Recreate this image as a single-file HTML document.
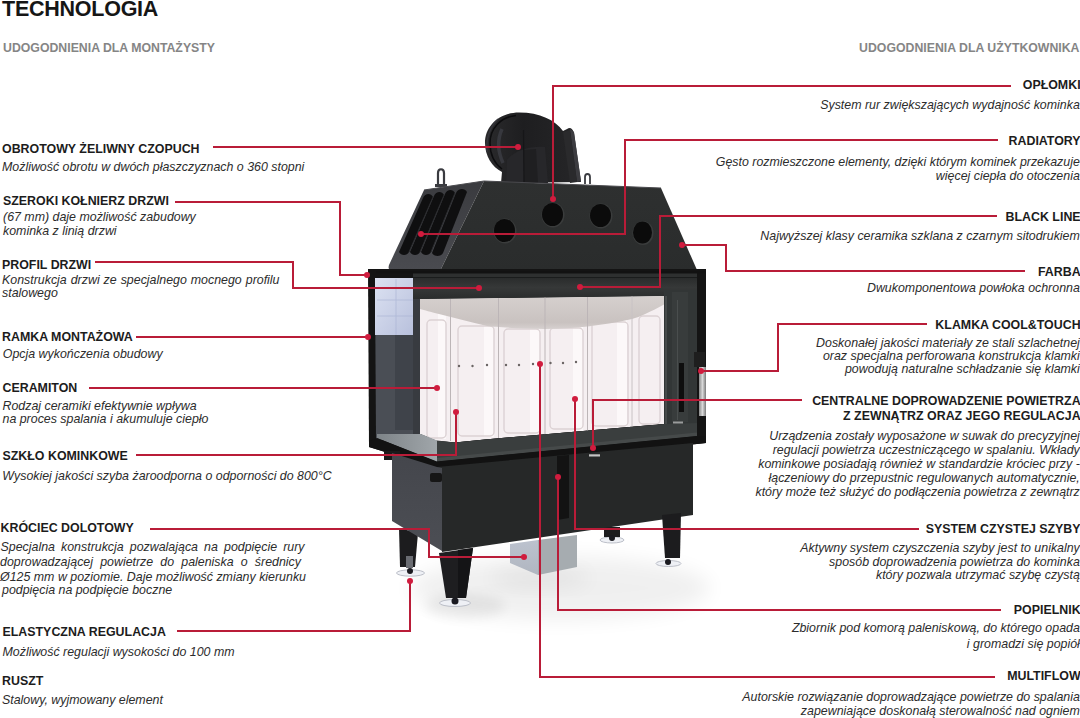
<!DOCTYPE html>
<html><head><meta charset="utf-8"><style>
html,body{margin:0;padding:0;background:#fff;overflow:hidden;}
body{width:1080px;height:718px;position:relative;overflow:hidden;font-family:"Liberation Sans",sans-serif;}
.t{position:absolute;white-space:nowrap;}
svg{position:absolute;left:0;top:0;}
</style></head><body>
<svg width="1080" height="718" viewBox="0 0 1080 718">
<defs>
  <radialGradient id="shadow" cx="0.5" cy="0.5" r="0.5">
    <stop offset="0" stop-color="#000" stop-opacity="0.10"/>
    <stop offset="1" stop-color="#000" stop-opacity="0"/>
  </radialGradient>
  <linearGradient id="hoodFront" x1="0" y1="0" x2="0" y2="1">
    <stop offset="0" stop-color="#2e3030"/>
    <stop offset="1" stop-color="#2a2c2c"/>
  </linearGradient>
  <linearGradient id="hoodSide" x1="0" y1="0" x2="0" y2="1">
    <stop offset="0" stop-color="#3a3b3f"/>
    <stop offset="1" stop-color="#4a4b50"/>
  </linearGradient>
  <linearGradient id="pipe" x1="0" y1="0" x2="1" y2="0">
    <stop offset="0" stop-color="#2a2a2c"/>
    <stop offset="0.4" stop-color="#1e1e20"/>
    <stop offset="1" stop-color="#262628"/>
  </linearGradient>
  <linearGradient id="sideGlass" x1="0" y1="0" x2="0" y2="1">
    <stop offset="0" stop-color="#44474c"/>
    <stop offset="1" stop-color="#5a5e62"/>
  </linearGradient>
  <linearGradient id="refl" x1="0" y1="0" x2="1" y2="1">
    <stop offset="0" stop-color="#dce2f2"/>
    <stop offset="1" stop-color="#b8c0dc"/>
  </linearGradient>
  <linearGradient id="topProfile" x1="0" y1="0" x2="0" y2="1">
    <stop offset="0" stop-color="#2a2c2c"/>
    <stop offset="0.45" stop-color="#363838"/>
    <stop offset="1" stop-color="#2a2c2c"/>
  </linearGradient>
  <linearGradient id="ceramTop" x1="0" y1="0" x2="0" y2="1">
    <stop offset="0" stop-color="#d6d0ce"/>
    <stop offset="0.8" stop-color="#c9c2c0"/>
    <stop offset="1" stop-color="#d6d0cf"/>
  </linearGradient>
  <linearGradient id="handle" x1="0" y1="0" x2="1" y2="0">
    <stop offset="0" stop-color="#8a8a8a"/>
    <stop offset="0.5" stop-color="#d8d8d8"/>
    <stop offset="1" stop-color="#7a7a7a"/>
  </linearGradient>
  <linearGradient id="boxSide" x1="0" y1="0" x2="0" y2="1">
    <stop offset="0" stop-color="#44464c"/>
    <stop offset="1" stop-color="#4c4e54"/>
  </linearGradient>
  <linearGradient id="blockL" x1="0" y1="0" x2="0" y2="1">
    <stop offset="0" stop-color="#bcc2ce"/>
    <stop offset="1" stop-color="#b0b6c0"/>
  </linearGradient>
  <linearGradient id="floorG" x1="0" y1="0" x2="1" y2="0">
    <stop offset="0" stop-color="#7e8488"/>
    <stop offset="1" stop-color="#a0a6aa"/>
  </linearGradient>
  <filter id="blur4" x="-50%" y="-50%" width="200%" height="200%"><feGaussianBlur stdDeviation="10"/></filter>
  <filter id="blur1" x="-50%" y="-50%" width="200%" height="200%"><feGaussianBlur stdDeviation="6"/></filter>
</defs>

<!-- floor shadow -->
<ellipse cx="560" cy="588" rx="150" ry="32" fill="#000" opacity="0.06" filter="url(#blur4)"/>
<ellipse cx="465" cy="606" rx="40" ry="12" fill="#000" opacity="0.06" filter="url(#blur1)"/>
<ellipse cx="540" cy="578" rx="50" ry="10" fill="#000" opacity="0.05" filter="url(#blur4)"/>

<!-- chimney elbow -->
<path d="M501,183 L502,172 C492,167 485,156 485,143 C485,126 499,112.5 519,112.5 C540,112.5 555,120 563,131 L569,128 C572,128 573,130 574,133 L581,182 Z" fill="url(#pipe)"/>
<path d="M570,129 L574,132 L581,181 L577,182 Z" fill="#3c3c40"/>
<path d="M563,132 L570,130 L577,182 L570,183 Z" fill="#2a2a2c"/>
<path d="M506,183 L507,160 C515,150 530,146 545,147 L548,183 Z" fill="#27272a"/>
<path d="M524,183 L524,150 L536,149 L538,183 Z" fill="#1f1f21"/>
<path d="M502,169 C494,163 490,153 490,143 C490,128 501,117 516,115.5" stroke="#0c0c0e" stroke-width="1.5" fill="none"/>
<path d="M487,152 C486,140 489,128 498,119" stroke="#36363c" stroke-width="1.3" fill="none"/>
<path d="M503,163 C498,152 497,140 502,129" stroke="#4a4c56" stroke-width="3.5" fill="none" opacity="0.5"/>
<path d="M523.5,130 L524,183" stroke="#161618" stroke-width="1.2"/>
<!-- loop handles -->
<path d="M438,185 L438,173 C438,168 444,168 444,173 L444,185" fill="none" stroke="#3a3b40" stroke-width="2.2"/>
<rect x="435" y="184" width="12" height="3" fill="#3a3b40"/>
<path d="M585,184 L585,177 C585,173 590,173 590,177 L590,184" fill="none" stroke="#3a3b40" stroke-width="1.8"/>
<!-- hood side (left) face -->
<path d="M424,190 L484,181 L440,271 L392,271 C389,271 388,268 389,265 Z" fill="url(#hoodSide)"/>
<!-- hood front face -->
<path d="M484,181 L661,188 L697,270 L697,271 L440,271 Z" fill="url(#hoodFront)"/>
<path d="M424,190 L484,181 L661,188" stroke="#4a4a4e" stroke-width="1" fill="none"/>
<!-- vents -->
<g fill="#0f0f10">
  <path d="M423,198 C425,193 431,193 433,197 L409,252 C407,256 401,256 399,252 Z"/>
  <path d="M434,196 C436,191 442,191 444,195 L420,252 C418,256 412,256 410,252 Z"/>
  <path d="M445,194 C447,189 453,189 455,193 L431,252 C429,256 423,256 421,252 Z"/>
  <path d="M456,193 C458,188 465,188 467,192 L443,253 C441,257 434,257 432,253 Z"/>
</g>
<g stroke="#2a2b2e" stroke-width="1">
  <path d="M433,197 L409,252"/><path d="M444,195 L420,252"/><path d="M455,193 L431,252"/>
</g>
<!-- holes -->
<g>
  <ellipse cx="505" cy="231" rx="11.5" ry="12.5" fill="#3a3c3c"/>
  <ellipse cx="553" cy="215" rx="11.5" ry="12.5" fill="#3a3c3c"/>
  <ellipse cx="601" cy="216" rx="11.5" ry="12.5" fill="#3a3c3c"/>
  <ellipse cx="643" cy="233" rx="10.5" ry="12" fill="#3a3c3c"/>
</g>
<g fill="#0b0b0b">
  <ellipse cx="504.5" cy="230.5" rx="10.5" ry="11.5"/>
  <ellipse cx="552.5" cy="214.5" rx="10.5" ry="11.5"/>
  <ellipse cx="600.5" cy="215.5" rx="10.5" ry="11.5"/>
  <ellipse cx="642.5" cy="232.5" rx="9.5" ry="11"/>
</g>
<!-- door outer frame silhouette -->
<path d="M368,269 L706,269 L706,443 L697,444 L437,468 L369,447 Z" fill="#141414"/>
<!-- side glass -->
<path d="M375,278 L420,278 L420,440 L376,440 Z" fill="#4a4e55"/>
<rect x="395" y="335" width="18" height="95" fill="#3f434a"/>
<rect x="375" y="278" width="39" height="57" fill="url(#refl)"/>
<g stroke="#a4aed0" stroke-width="0.8" opacity="0.7">
  <path d="M377,300 L413,300"/><path d="M377,316 L413,316"/><path d="M396,279 L396,335"/>
</g>
<rect x="413" y="278" width="7" height="160" fill="#383b40"/>
<!-- top profile -->
<rect x="376" y="271" width="330" height="2.5" fill="#121212"/>
<rect x="413" y="273.5" width="284" height="3.5" fill="#2e3030"/>
<rect x="413" y="277" width="284" height="1.2" fill="#1a1c1c"/>
<rect x="413" y="278" width="284" height="21" fill="url(#topProfile)"/>
<clipPath id="ceramClip"><path d="M420,299 L664,296 L664,424 L485,439.5 L455,442.5 L437,441 L420,434 Z"/></clipPath>
<!-- interior ceramic -->
<g clip-path="url(#ceramClip)">
<path d="M420,299 L664,296 L664,424 L485,439.5 L455,442.5 L437,441 L420,434 Z" fill="#f5eff1"/>
<g fill="#fcf8f9">
  <rect x="438" y="305" width="8" height="134"/>
  <rect x="484" y="305" width="10" height="132"/>
  <rect x="530" y="305" width="10" height="128"/>
  <rect x="573" y="305" width="10" height="126"/>
  <rect x="617" y="305" width="10" height="122"/>
</g>
<g fill="none" stroke="#dcd2d4" stroke-width="1.4">
  <rect x="427" y="320" width="19" height="118" rx="4"/>
  <rect x="458" y="326" width="36" height="110" rx="4"/>
  <rect x="504" y="329" width="36" height="104" rx="4"/>
  <rect x="550" y="328" width="33" height="101" rx="4"/>
  <rect x="592" y="322" width="36" height="104" rx="4"/>
  <rect x="639" y="316" width="21" height="108" rx="4"/>
</g>

<!-- top shadow arc -->
<path d="M420,299 L664,296 L664,304.5 C650,312 640,317 632,319 C600,326 575,328.5 545,329 C515,328.5 495,327 487,326 C470,322 455,318 439,314 C430,312 425,310 420,309 Z" fill="url(#ceramTop)"/>
<!-- panel dividers -->
<g stroke="#bcb5b7" stroke-width="1">
  <path d="M450.5,299 L450.5,441"/>
  <path d="M498.5,298 L498.5,438"/>
  <path d="M545,297 L545,435"/>
  <path d="M587.5,297 L587.5,432"/>
  <path d="M632,296 L632,429" stroke="#c8c2c4"/>
</g>
<g fill="#6a6464">
  <circle cx="459" cy="366" r="1.2"/><circle cx="472.5" cy="366" r="1.2"/><circle cx="487" cy="365" r="1.2"/>
  <circle cx="506" cy="365" r="1.2"/><circle cx="519" cy="365" r="1.2"/><circle cx="533" cy="364" r="1.2"/>
  <circle cx="550.5" cy="363" r="1.2"/><circle cx="563" cy="363" r="1.2"/><circle cx="576" cy="362" r="1.2"/>
</g>
</g>
<!-- right inner frame -->
<path d="M664,290 L697,290 L697,424 L664,424 Z" fill="#323636"/>
<rect x="665" y="296" width="2" height="128" fill="#464a4a"/>
<rect x="672" y="292" width="16" height="130" fill="#383c3c"/>
<rect x="677" y="300" width="1" height="120" fill="#4a4e4e"/>
<rect x="679" y="363" width="5" height="49" fill="#0e0e0e"/>
<!-- handle -->
<rect x="694" y="352" width="11" height="15" fill="#1e1e1e"/>
<rect x="699" y="367" width="7" height="49" fill="url(#handle)"/>
<!-- side floor -->
<path d="M377,434 L421,434 L437,440.5 L437,462 L377,438 Z" fill="url(#floorG)"/>
<!-- door bottom frame -->
<path d="M437,440.5 L455,442.5 L485,439.5 L664,424 L697,423 L697,436 L437,461.5 Z" fill="#3a3e3e"/>
<path d="M437,458 L697,432.5 L697,436 L437,461.5 Z" fill="#464a4a"/>

<!-- black bottom band -->
<path d="M369,441 L377,438 L437,461.5 L697,436 L706,436 L706,443 L697,444 L437,468 L369,447 Z" fill="#121212"/>
<!-- little tab -->
<rect x="384" y="451" width="16" height="9" fill="#1a1a1a"/>
<!-- light bar under CENTRALNE dot -->


<!-- legs (back) -->
<path d="M399,528 L418,533 L415,567 L400,567 Z" fill="#1c1c1e"/>
<ellipse cx="410.5" cy="573" rx="14" ry="3.2" fill="#eef0f5" stroke="#b4b8c2" stroke-width="0.9"/>
<rect x="406" y="556" width="7" height="12" fill="#6a6c72"/>
<circle cx="410" cy="571" r="3" fill="#1a1a20"/>
<ellipse cx="612" cy="540" rx="12" ry="3" fill="#eef0f5" stroke="#b4b8c2" stroke-width="0.9"/>
<rect x="604" y="527" width="16" height="10" fill="#1c1c1e"/>
<circle cx="612" cy="538" r="3" fill="#1a1a20"/>

<!-- lower box -->
<path d="M392,453 L437,467 L442,467 L442,551 L392,521 Z" fill="url(#boxSide)"/>
<path d="M437,467 L693,443 L693,515 L442,552 L442,468 Z" fill="#262828"/>
<path d="M557,456 L569,455 L569,518 L557,520 Z" fill="#131313"/>
<rect x="430" y="473" width="12" height="9" rx="2" fill="#161616"/>

<!-- grey block -->
<path d="M510,544 L538,540 L538,575 L510,563 Z" fill="url(#blockL)"/>
<path d="M538,540 L577,535 L577,567 L538,575 Z" fill="#a6acb0"/>

<!-- front legs -->
<path d="M439,553 L473,548 L466,598 L446,598 Z" fill="#1e1e20"/>
<path d="M458,550 L473,548 L466,598 L458,598 Z" fill="#141416"/>
<ellipse cx="455" cy="603" rx="15.5" ry="3.5" fill="#eef0f5" stroke="#b4b8c2" stroke-width="0.9"/>
<circle cx="455" cy="601" r="3.5" fill="#1a1a20"/>
<path d="M662,515 L681,513 L680,558 L665,558 Z" fill="#1c1c1e"/>
<ellipse cx="668.5" cy="563.5" rx="12.5" ry="3" fill="#eef0f5" stroke="#b4b8c2" stroke-width="0.9"/>
<circle cx="668" cy="562" r="3" fill="#1a1a20"/>
<rect x="589" y="454.3" width="11" height="2.2" fill="#c4c4c4"/>
<rect x="673" y="421.5" width="10" height="2" fill="#9a9c9c"/>

<polyline points="213,147 518,147" fill="none" stroke="#b91c38" stroke-width="2" stroke-linejoin="miter"/>
<circle cx="518" cy="147" r="3" fill="#d01c3e"/>
<polyline points="175,202 340,202 340,275 367,275" fill="none" stroke="#b91c38" stroke-width="2" stroke-linejoin="miter"/>
<circle cx="367" cy="275" r="3" fill="#d01c3e"/>
<polyline points="95,262 293,262 293,288 479,288" fill="none" stroke="#b91c38" stroke-width="2" stroke-linejoin="miter"/>
<circle cx="479" cy="288" r="3" fill="#d01c3e"/>
<polyline points="136,337 368,337" fill="none" stroke="#b91c38" stroke-width="2" stroke-linejoin="miter"/>
<circle cx="368" cy="337" r="3" fill="#d01c3e"/>
<polyline points="89,388 437,388" fill="none" stroke="#b91c38" stroke-width="2" stroke-linejoin="miter"/>
<circle cx="437" cy="388" r="3" fill="#d01c3e"/>
<polyline points="136,455 456,455 456,412" fill="none" stroke="#b91c38" stroke-width="2" stroke-linejoin="miter"/>
<circle cx="456" cy="412" r="3" fill="#d01c3e"/>
<polyline points="150,529 429,529 429,557 524,557" fill="none" stroke="#b91c38" stroke-width="2" stroke-linejoin="miter"/>
<circle cx="524" cy="557" r="3" fill="#d01c3e"/>
<polyline points="177,631 410,631 410,581" fill="none" stroke="#b91c38" stroke-width="2" stroke-linejoin="miter"/>
<circle cx="410" cy="581" r="3" fill="#d01c3e"/>
<polyline points="995,677 540,677 540,364" fill="none" stroke="#b91c38" stroke-width="2" stroke-linejoin="miter"/>
<circle cx="540" cy="364" r="3" fill="#d01c3e"/>
<polyline points="1001,610 558,610 558,477" fill="none" stroke="#b91c38" stroke-width="2" stroke-linejoin="miter"/>
<circle cx="558" cy="477" r="3" fill="#d01c3e"/>
<polyline points="1011,86 553,86 553,199" fill="none" stroke="#b91c38" stroke-width="2" stroke-linejoin="miter"/>
<circle cx="553" cy="199" r="3" fill="#d01c3e"/>
<polyline points="998,140 625,140 625,234 421,234" fill="none" stroke="#b91c38" stroke-width="2" stroke-linejoin="miter"/>
<circle cx="421" cy="234" r="3" fill="#d01c3e"/>
<polyline points="997,216 660,216 660,287 580,287" fill="none" stroke="#b91c38" stroke-width="2" stroke-linejoin="miter"/>
<circle cx="580" cy="287" r="3" fill="#d01c3e"/>
<polyline points="1025,271 726,271 726,245 682,245" fill="none" stroke="#b91c38" stroke-width="2" stroke-linejoin="miter"/>
<circle cx="682" cy="245" r="3" fill="#d01c3e"/>
<polyline points="927,324 778,324 778,371 701,371" fill="none" stroke="#b91c38" stroke-width="2" stroke-linejoin="miter"/>
<circle cx="701" cy="371" r="3" fill="#d01c3e"/>
<polyline points="802,400 593,400 593,448" fill="none" stroke="#b91c38" stroke-width="2" stroke-linejoin="miter"/>
<circle cx="593" cy="448" r="3" fill="#d01c3e"/>
<polyline points="919,529 575,529 575,399" fill="none" stroke="#b91c38" stroke-width="2" stroke-linejoin="miter"/>
<circle cx="575" cy="399" r="3" fill="#d01c3e"/>
</svg>
<div class="t" style="left:2px;top:-1.10px;font-size:21.5px;line-height:21.5px;font-weight:bold;letter-spacing:-0.25px;color:#161616;">TECHNOLOGIA</div>
<div class="t" style="left:3px;top:42.29px;font-size:12.3px;line-height:12.3px;font-weight:bold;color:#858585;">UDOGODNIENIA DLA MONTAŻYSTY</div>
<div class="t" style="right:0.50px;top:42.29px;font-size:12.3px;line-height:12.3px;font-weight:bold;color:#858585;text-align:right">UDOGODNIENIA DLA UŻYTKOWNIKA</div>
<div class="t" style="left:2px;top:142.70px;font-size:12.4px;line-height:12.4px;font-weight:bold;color:#1c1c1c;">OBROTOWY ŻELIWNY CZOPUCH</div>
<div class="t" style="left:2px;top:161.20px;font-size:12.4px;line-height:12.4px;font-style:italic;color:#2c2c2c;">Możliwość obrotu w dwóch płaszczyznach o 360 stopni</div>
<div class="t" style="left:3px;top:195.20px;font-size:12.4px;line-height:12.4px;font-weight:bold;color:#1c1c1c;">SZEROKI KOŁNIERZ DRZWI</div>
<div class="t" style="left:3px;top:211.20px;font-size:12.4px;line-height:12.4px;font-style:italic;color:#2c2c2c;">(67 mm) daje możliwość zabudowy</div>
<div class="t" style="left:3px;top:224.70px;font-size:12.4px;line-height:12.4px;font-style:italic;color:#2c2c2c;">kominka z linią drzwi</div>
<div class="t" style="left:2px;top:259.20px;font-size:12.4px;line-height:12.4px;font-weight:bold;color:#1c1c1c;">PROFIL DRZWI</div>
<div class="t" style="left:2px;top:273.50px;font-size:12.4px;line-height:12.4px;font-style:italic;color:#2c2c2c;width:277.5px;text-align:justify;text-align-last:justify;">Konstrukcja drzwi ze specjalnego mocnego profilu</div>
<div class="t" style="left:2px;top:287.20px;font-size:12.4px;line-height:12.4px;font-style:italic;color:#2c2c2c;">stalowego</div>
<div class="t" style="left:2px;top:331.20px;font-size:12.4px;line-height:12.4px;font-weight:bold;color:#1c1c1c;">RAMKA MONTAŻOWA</div>
<div class="t" style="left:2.8px;top:348.00px;font-size:12.4px;line-height:12.4px;font-style:italic;color:#2c2c2c;">Opcja wykończenia obudowy</div>
<div class="t" style="left:2.5px;top:382.20px;font-size:12.4px;line-height:12.4px;font-weight:bold;color:#1c1c1c;">CERAMITON</div>
<div class="t" style="left:2.5px;top:399.60px;font-size:12.4px;line-height:12.4px;font-style:italic;color:#2c2c2c;">Rodzaj ceramiki efektywnie wpływa</div>
<div class="t" style="left:2.5px;top:412.70px;font-size:12.4px;line-height:12.4px;font-style:italic;color:#2c2c2c;">na proces spalania i akumuluje ciepło</div>
<div class="t" style="left:2.5px;top:449.90px;font-size:12.4px;line-height:12.4px;font-weight:bold;color:#1c1c1c;">SZKŁO KOMINKOWE</div>
<div class="t" style="left:2.3px;top:469.50px;font-size:12.4px;line-height:12.4px;font-style:italic;color:#2c2c2c;">Wysokiej jakości szyba żaroodporna o odporności do 800°C</div>
<div class="t" style="left:0.5px;top:522.20px;font-size:12.4px;line-height:12.4px;font-weight:bold;color:#1c1c1c;">KRÓCIEC DOLOTOWY</div>
<div class="t" style="left:0.5px;top:541.20px;font-size:12.4px;line-height:12.4px;font-style:italic;color:#2c2c2c;width:304px;text-align:justify;text-align-last:justify;">Specjalna konstrukcja pozwalająca na podpięcie rury</div>
<div class="t" style="left:0px;top:555.90px;font-size:12.4px;line-height:12.4px;font-style:italic;color:#2c2c2c;width:301px;text-align:justify;text-align-last:justify;">doprowadzającej powietrze do paleniska o średnicy</div>
<div class="t" style="left:0px;top:571.20px;font-size:12.4px;line-height:12.4px;font-style:italic;color:#2c2c2c;width:306px;text-align:justify;text-align-last:justify;">Ø125 mm w poziomie. Daje możliwość zmiany kierunku</div>
<div class="t" style="left:2px;top:583.80px;font-size:12.4px;line-height:12.4px;font-style:italic;color:#2c2c2c;">podpięcia na podpięcie boczne</div>
<div class="t" style="left:2.5px;top:625.50px;font-size:12.4px;line-height:12.4px;font-weight:bold;color:#1c1c1c;">ELASTYCZNA REGULACJA</div>
<div class="t" style="left:2.5px;top:646.40px;font-size:12.4px;line-height:12.4px;font-style:italic;color:#2c2c2c;">Możliwość regulacji wysokości do 100 mm</div>
<div class="t" style="left:2px;top:674.90px;font-size:12.4px;line-height:12.4px;font-weight:bold;color:#1c1c1c;">RUSZT</div>
<div class="t" style="left:2px;top:694.40px;font-size:12.4px;line-height:12.4px;font-style:italic;color:#2c2c2c;">Stalowy, wyjmowany element</div>
<div class="t" style="right:-0.60px;top:79.20px;font-size:12.4px;line-height:12.4px;font-weight:bold;color:#1c1c1c;text-align:right">OPŁOMKI</div>
<div class="t" style="right:0.20px;top:99.20px;font-size:12.4px;line-height:12.4px;font-style:italic;color:#2c2c2c;text-align:right">System rur zwiększających wydajność kominka</div>
<div class="t" style="right:-0.60px;top:134.60px;font-size:12.4px;line-height:12.4px;font-weight:bold;color:#1c1c1c;text-align:right">RADIATORY</div>
<div class="t" style="right:0.20px;top:155.70px;font-size:12.4px;line-height:12.4px;font-style:italic;color:#2c2c2c;text-align:right">Gęsto rozmieszczone elementy, dzięki którym kominek przekazuje</div>
<div class="t" style="right:0.20px;top:169.70px;font-size:12.4px;line-height:12.4px;font-style:italic;color:#2c2c2c;text-align:right">więcej ciepła do otoczenia</div>
<div class="t" style="right:-0.60px;top:211.20px;font-size:12.4px;line-height:12.4px;font-weight:bold;color:#1c1c1c;text-align:right">BLACK LINE</div>
<div class="t" style="right:0.20px;top:230.20px;font-size:12.4px;line-height:12.4px;font-style:italic;color:#2c2c2c;text-align:right">Najwyższej klasy ceramika szklana z czarnym sitodrukiem</div>
<div class="t" style="right:-0.60px;top:266.40px;font-size:12.4px;line-height:12.4px;font-weight:bold;color:#1c1c1c;text-align:right">FARBA</div>
<div class="t" style="right:0.20px;top:282.20px;font-size:12.4px;line-height:12.4px;font-style:italic;color:#2c2c2c;text-align:right">Dwukomponentowa powłoka ochronna</div>
<div class="t" style="right:-0.60px;top:318.50px;font-size:12.4px;line-height:12.4px;font-weight:bold;color:#1c1c1c;text-align:right">KLAMKA COOL&amp;TOUCH</div>
<div class="t" style="right:0.20px;top:336.80px;font-size:12.4px;line-height:12.4px;font-style:italic;color:#2c2c2c;text-align:right">Doskonałej jakości materiały ze stali szlachetnej</div>
<div class="t" style="right:0.20px;top:349.70px;font-size:12.4px;line-height:12.4px;font-style:italic;color:#2c2c2c;text-align:right">oraz specjalna perforowana konstrukcja klamki</div>
<div class="t" style="right:0.20px;top:362.70px;font-size:12.4px;line-height:12.4px;font-style:italic;color:#2c2c2c;text-align:right">powodują naturalne schładzanie się klamki</div>
<div class="t" style="right:-0.60px;top:394.80px;font-size:12.4px;line-height:12.4px;font-weight:bold;color:#1c1c1c;text-align:right">CENTRALNE DOPROWADZENIE POWIETRZA</div>
<div class="t" style="right:-0.60px;top:409.60px;font-size:12.4px;line-height:12.4px;font-weight:bold;color:#1c1c1c;text-align:right">Z ZEWNĄTRZ ORAZ JEGO REGULACJA</div>
<div class="t" style="right:0.20px;top:430.00px;font-size:12.4px;line-height:12.4px;font-style:italic;color:#2c2c2c;text-align:right">Urządzenia zostały wyposażone w suwak do precyzyjnej</div>
<div class="t" style="right:0.20px;top:444.10px;font-size:12.4px;line-height:12.4px;font-style:italic;color:#2c2c2c;text-align:right">regulacji powietrza uczestniczącego w spalaniu. Wkłady</div>
<div class="t" style="right:0.20px;top:458.20px;font-size:12.4px;line-height:12.4px;font-style:italic;color:#2c2c2c;text-align:right">kominkowe posiadają również w standardzie króciec przy -</div>
<div class="t" style="right:0.20px;top:471.70px;font-size:12.4px;line-height:12.4px;font-style:italic;color:#2c2c2c;text-align:right">łączeniowy do przepustnic regulowanych automatycznie,</div>
<div class="t" style="right:0.20px;top:485.60px;font-size:12.4px;line-height:12.4px;font-style:italic;color:#2c2c2c;text-align:right">który może też służyć do podłączenia powietrza z zewnątrz</div>
<div class="t" style="right:-0.60px;top:523.20px;font-size:12.4px;line-height:12.4px;font-weight:bold;color:#1c1c1c;text-align:right">SYSTEM CZYSTEJ SZYBY</div>
<div class="t" style="right:0.20px;top:541.90px;font-size:12.4px;line-height:12.4px;font-style:italic;color:#2c2c2c;text-align:right">Aktywny system czyszczenia szyby jest to unikalny</div>
<div class="t" style="right:0.20px;top:556.00px;font-size:12.4px;line-height:12.4px;font-style:italic;color:#2c2c2c;text-align:right">sposób doprowadzenia powietrza do kominka</div>
<div class="t" style="right:0.20px;top:569.20px;font-size:12.4px;line-height:12.4px;font-style:italic;color:#2c2c2c;text-align:right">który pozwala utrzymać szybę czystą</div>
<div class="t" style="right:-0.60px;top:604.20px;font-size:12.4px;line-height:12.4px;font-weight:bold;color:#1c1c1c;text-align:right">POPIELNIK</div>
<div class="t" style="right:0.20px;top:622.20px;font-size:12.4px;line-height:12.4px;font-style:italic;color:#2c2c2c;text-align:right">Zbiornik pod komorą paleniskową, do którego opada</div>
<div class="t" style="right:0.20px;top:638.20px;font-size:12.4px;line-height:12.4px;font-style:italic;color:#2c2c2c;text-align:right">i gromadzi się popiół</div>
<div class="t" style="right:-0.60px;top:669.80px;font-size:12.4px;line-height:12.4px;font-weight:bold;color:#1c1c1c;text-align:right">MULTIFLOW</div>
<div class="t" style="right:0.20px;top:691.00px;font-size:12.4px;line-height:12.4px;font-style:italic;color:#2c2c2c;text-align:right">Autorskie rozwiązanie doprowadzające powietrze do spalania</div>
<div class="t" style="right:0.20px;top:705.40px;font-size:12.4px;line-height:12.4px;font-style:italic;color:#2c2c2c;text-align:right">zapewniające doskonałą sterowalność nad ogniem</div>
</body></html>
